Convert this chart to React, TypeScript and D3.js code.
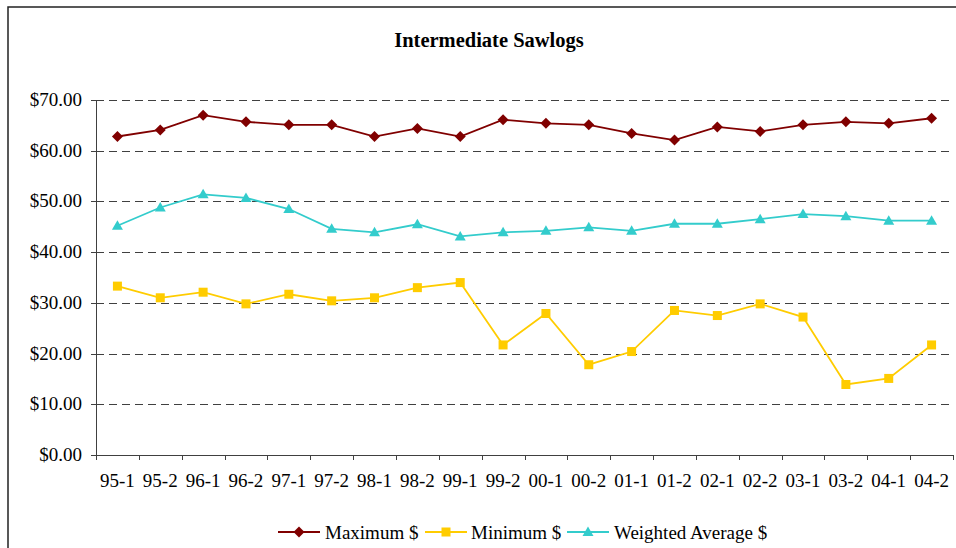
import React from "react";
import * as d3 from "d3";

const categories = ["95-1","95-2","96-1","96-2","97-1","97-2","98-1","98-2","99-1","99-2","00-1","00-2","01-1","01-2","02-1","02-2","03-1","03-2","04-1","04-2"];
const maximum = [62.8,64.1,67.0,65.7,65.1,65.1,62.8,64.4,62.8,66.1,65.4,65.1,63.4,62.1,64.7,63.8,65.1,65.7,65.4,66.4];
const minimum = [33.3,31.0,32.1,29.8,31.7,30.4,31.0,33.0,34.0,21.7,27.9,17.8,20.4,28.5,27.5,29.8,27.2,13.9,15.1,21.7];
const weighted = [45.2,48.8,51.4,50.7,48.5,44.6,43.9,45.5,43.1,43.9,44.2,44.9,44.2,45.6,45.6,46.5,47.5,47.1,46.2,46.2];
const yTicks = [0,10,20,30,40,50,60,70];
const seriesNames = ["Maximum $","Minimum $","Weighted Average $"];

const W = 956, H = 548;
const left = 96, right = 953, top = 100, bottom = 455;
const FONT = '"Liberation Serif", "Times New Roman", Times, "DejaVu Serif", serif';

const colors = ["#800000", "#FFCC00", "#33CCCC"];

function marker(kind: number, cx: number, cy: number, color: string, key?: any) {
  if (kind === 0) {
    return <path key={key} d={`M${cx},${cy-5.5}L${cx+5.5},${cy}L${cx},${cy+5.5}L${cx-5.5},${cy}Z`} fill={color} />;
  }
  if (kind === 1) {
    return <rect key={key} x={cx-4.5} y={cy-4.5} width={9} height={9} fill={color} />;
  }
  return <path key={key} d={`M${cx},${cy-5.5}L${cx+5.5},${cy+4}L${cx-5.5},${cy+4}Z`} fill={color} />;
}

export default function App() {
  const x = d3.scaleBand<string>().domain(categories).range([left, right]).paddingInner(0).paddingOuter(0);
  const y = d3.scaleLinear().domain([0, 70]).range([bottom, top]);
  const cx = (c: string) => (x(c) as number) + x.bandwidth() / 2;
  const series = [maximum, minimum, weighted];
  const line = d3.line<number>().x((_, i) => cx(categories[i])).y(v => y(v));
  const boundaries = categories.map(c => x(c) as number).concat([right]);

  const legendItems = [
    { lx: 278, tx: 325 },
    { lx: 425, tx: 471 },
    { lx: 567, tx: 614 },
  ];
  const tStyle = { fontFamily: FONT };

  return (
    <svg width={W} height={H} style={{ position: "absolute", left: 0, top: 0, background: "#fff" }}>
      <rect x={0} y={0} width={W} height={H} fill="#fff" />
      <rect x={8} y={7} width={1000} height={700} fill="none" stroke="#222" strokeWidth={1.5} />
      <text x={489} y={47} textAnchor="middle" style={tStyle} fontWeight="bold" fontSize={20.5}>Intermediate Sawlogs</text>

      {yTicks.filter(t => t > 0).map(t => (
        <line key={"g"+t} x1={left} x2={right} y1={Math.round(y(t)) + 0.5} y2={Math.round(y(t)) + 0.5} stroke="#404040" strokeWidth={1} strokeDasharray="8,5" />
      ))}
      <line x1={left + 0.5} x2={left + 0.5} y1={top} y2={bottom} stroke="#404040" strokeWidth={1} />
      {yTicks.map(t => (
        <g key={"yt"+t}>
          <line x1={left - 5} x2={left} y1={Math.round(y(t)) + 0.5} y2={Math.round(y(t)) + 0.5} stroke="#404040" />
          <text x={82} y={y(t) + 6} textAnchor="end" style={tStyle} fontSize={19} fill="#000">{"$" + t.toFixed(2)}</text>
        </g>
      ))}
      <line x1={left - 5} x2={right} y1={bottom + 0.5} y2={bottom + 0.5} stroke="#404040" />
      {boundaries.map((b, i) => (
        <line key={"xt"+i} x1={Math.round(b) + 0.5} x2={Math.round(b) + 0.5} y1={bottom} y2={bottom + 5} stroke="#404040" />
      ))}
      {categories.map(c => (
        <text key={"xl"+c} x={cx(c)} y={487} textAnchor="middle" style={tStyle} fontSize={19} fill="#000">{c}</text>
      ))}

      {series.map((s, k) => (
        <g key={"s"+k}>
          <path d={line(s) as string} fill="none" stroke={colors[k]} strokeWidth={1.8} />
          {s.map((v, i) => marker(k, cx(categories[i]), y(v), colors[k], i))}
        </g>
      ))}

      {legendItems.map((it, k) => (
        <g key={"lg"+k}>
          <line x1={it.lx} x2={it.lx + 42} y1={532} y2={532} stroke={colors[k]} strokeWidth={1.8} />
          {marker(k, it.lx + 21, 532, colors[k])}
          <text x={it.tx} y={538.5} style={tStyle} fontSize={19} fill="#000">{seriesNames[k]}</text>
        </g>
      ))}
    </svg>
  );
}
